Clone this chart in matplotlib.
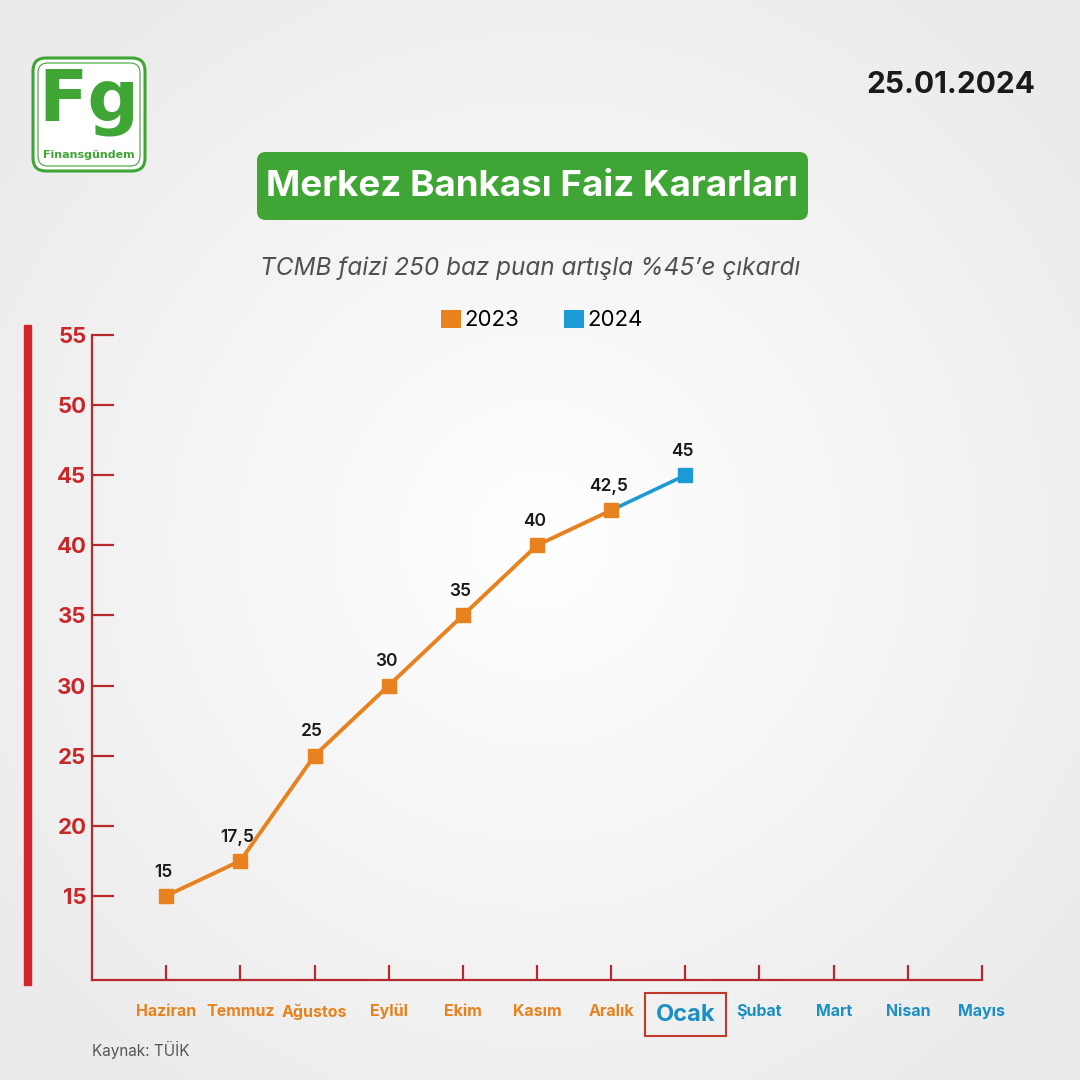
import numpy as np
import matplotlib
matplotlib.use("Agg")
import matplotlib.pyplot as plt
from matplotlib.patches import FancyBboxPatch, Rectangle, Patch

# === DATA ===
months = ["Haziran", "Temmuz", "Ağustos", "Eylül", "Ekim", "Kasım", "Aralık",
          "Ocak", "Şubat", "Mart", "Nisan", "Mayıs"]
rates_2023 = [15, 17.5, 25, 30, 35, 40, 42.5]
rates_2024 = [45]
rate_labels = ["15", "17,5", "25", "30", "35", "40", "42,5", "45"]
y_ticks = [15, 20, 25, 30, 35, 40, 45, 50, 55]

ORANGE = "#e8821e"
BLUE = "#1c9ad6"
RED = "#b8292e"
GREEN = "#3fa535"

plt.rcParams['font.family'] = ['Inter', 'DejaVu Sans']

fig = plt.figure(figsize=(10.8, 10.8), dpi=100)

# === background radial gradient ===
bg = fig.add_axes([0, 0, 1, 1], zorder=-10)
yy, xx = np.mgrid[0:1:400j, 0:1:400j]
r = np.sqrt((xx - 0.5) ** 2 + (yy - 0.5) ** 2)
shade = 1.0 - 0.075 * np.clip(r / 0.6, 0, 1)
bg.imshow(np.dstack([shade] * 3), extent=[0, 1, 0, 1], aspect='auto')
bg.axis('off')

# === main chart ===
ax = fig.add_axes([92 / 1080, 1 - 980 / 1080, 890 / 1080, 645 / 1080])
ax.set_facecolor('none')
x_2023 = np.arange(len(rates_2023))
x_2024 = np.arange(len(rates_2023), len(rates_2023) + len(rates_2024))

ax.plot([x_2023[-1], x_2024[0]], [rates_2023[-1], rates_2024[0]],
        color=BLUE, lw=2.6, zorder=2)
ax.plot(x_2023, rates_2023, color=ORANGE, lw=2.8, marker='s', ms=10,
        zorder=3)
ax.plot(x_2024, rates_2024, color=BLUE, lw=0, marker='s', ms=10, zorder=3)

all_x = list(x_2023) + list(x_2024)
all_y = rates_2023 + rates_2024
for xv, yv, lab in zip(all_x, all_y, rate_labels):
    ax.annotate(lab, (xv, yv), xytext=(-2, 11), textcoords='offset points',
                ha='center', va='bottom', fontsize=12.5, color='#1a1a1a',
                fontweight='semibold')

ax.set_xlim(-1, 11)
ax.set_ylim(9, 55)
ax.set_yticks(y_ticks)
ax.set_yticklabels([str(v) for v in y_ticks])
ax.set_xticks(np.arange(len(months)))
ax.set_xticklabels(months)

for side in ['top', 'right']:
    ax.spines[side].set_visible(False)
for side in ['left', 'bottom']:
    ax.spines[side].set_color(RED)
    ax.spines[side].set_linewidth(1.6)

ax.tick_params(axis='y', direction='in', length=16, width=1.6, color=RED,
               labelcolor="#c8282a", labelsize=16, pad=4)
ax.tick_params(axis='x', direction='in', length=11, width=1.6, color=RED,
               labelsize=11.5, pad=17)
for lab in ax.get_yticklabels():
    lab.set_fontweight('bold')
for i, lab in enumerate(ax.get_xticklabels()):
    lab.set_fontweight('bold')
    lab.set_color(ORANGE if i < len(rates_2023) else "#1b8fc4")
    if months[i] == "Ocak":
        lab.set_fontsize(17)
        lab.set_bbox(dict(boxstyle='square,pad=0.45', facecolor='none',
                          edgecolor="#c0392b", linewidth=1.5))

# red bar on the left
fig.patches.append(Rectangle((24 / 1080, 1 - 985 / 1080), 7 / 1080, 660 / 1080,
                             transform=fig.transFigure, color="#d0262b"))

# === legend ===
handles = [Patch(facecolor=ORANGE, edgecolor='none', label='2023'),
           Patch(facecolor=BLUE, edgecolor='none', label='2024')]
fig.legend(handles=handles, loc='center', bbox_to_anchor=(0.502, 1 - 320 / 1080),
           ncol=2, frameon=False, fontsize=16, handlelength=0.9, handleheight=0.9,
           handletextpad=0.15, columnspacing=2.0)

# === title box ===
fig.patches.append(FancyBboxPatch((257 / 1080, 1 - 220 / 1080), 551 / 1080, 68 / 1080,
                                  boxstyle='round,pad=0,rounding_size=0.008',
                                  transform=fig.transFigure, facecolor=GREEN,
                                  edgecolor='none'))
fig.text(532 / 1080, 1 - 186 / 1080, "Merkez Bankası Faiz Kararları", ha='center',
         va='center', color='white', fontsize=26.5, fontweight='bold')
fig.text(530 / 1080, 1 - 268 / 1080, "TCMB faizi 250 baz puan artışla %45’e çıkardı",
         ha='center', va='center', color='#505050', fontsize=17.5, style='italic')
fig.text(1035 / 1080, 1 - 85 / 1080, "25.01.2024", ha='right', va='center',
         color='#1a1a1a', fontsize=21.5, fontweight='bold')
fig.text(92 / 1080, 1 - 1050 / 1080, "Kaynak: TÜİK", ha='left', va='center',
         color='#555555', fontsize=11)

# === logo ===
fig.patches.append(FancyBboxPatch((33 / 1080, 1 - 171 / 1080), 112 / 1080, 113 / 1080,
                                  boxstyle='round,pad=0,rounding_size=0.012',
                                  transform=fig.transFigure, facecolor='white',
                                  edgecolor=GREEN, linewidth=2.2))
fig.patches.append(FancyBboxPatch((38 / 1080, 1 - 166 / 1080), 102 / 1080, 103 / 1080,
                                  boxstyle='round,pad=0,rounding_size=0.009',
                                  transform=fig.transFigure, facecolor='none',
                                  edgecolor=GREEN, linewidth=0.8))
fig.text(89 / 1080, 1 - 102 / 1080, "Fg", ha='center', va='center', color=GREEN,
         fontsize=52, fontweight='heavy', family=['DejaVu Sans'])
fig.text(89 / 1080, 1 - 155 / 1080, "Finansgündem", ha='center', va='center',
         color=GREEN, fontsize=8, fontweight='bold', family=['DejaVu Sans'])

fig.savefig("out.png", dpi=100)
